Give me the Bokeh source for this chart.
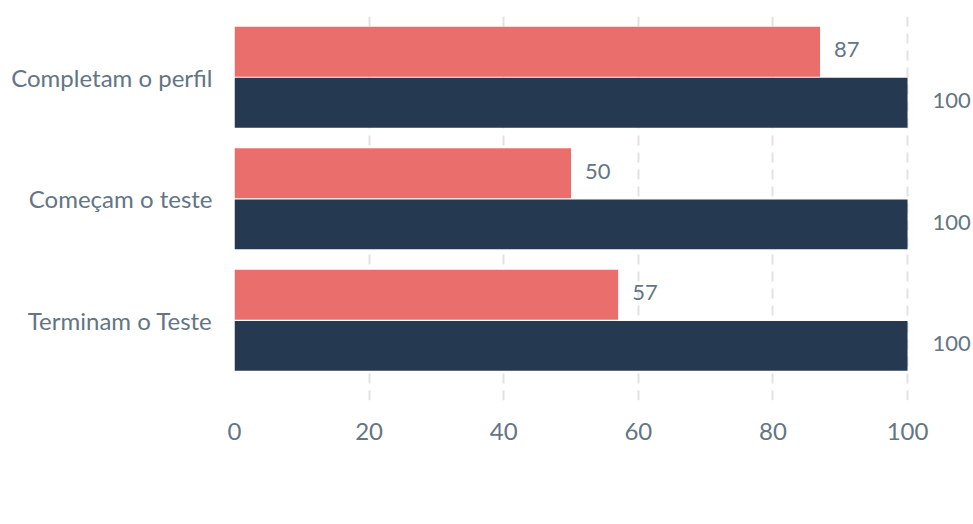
import numpy as np
from bokeh.plotting import figure
from bokeh.models import Range1d, FixedTicker, Legend
from bokeh.core.properties import value
from bokeh.embed import file_html
from bokeh.resources import INLINE

# ---- data ----
categories = ["Completam o perfil", "Começam o teste", "Terminam o Teste"]
homens = [100, 100, 100]
mulheres = [87, 50, 57]
x_ticks = [0, 20, 40, 60, 80, 100]
series_names = ["Homens", "Mulheres"]

# ---- style ----
DARK = "#253a50"
PINK = "#ea6f6c"
TEXT = "#647584"
GRID = "#e2e2e2"
FONT = "Lato"
FS = "24px"
FS_DATA = "22px"

idx = np.arange(len(categories))
BAR_H = 0.41
OFF = 0.21

p = figure(
    width=973, height=524, frame_width=739, frame_height=384,
    x_range=Range1d(0, 109.8),
    y_range=Range1d(len(categories) - 0.34, -0.5),
    output_backend="svg", toolbar_location=None,
    min_border_left=234, min_border_right=0, min_border_top=16, min_border_bottom=0,
)

r_pink = p.hbar(y=idx - OFF, left=0, right=mulheres, height=BAR_H,
                fill_color=PINK, line_color=None)
r_dark = p.hbar(y=idx + OFF, left=0, right=homens, height=BAR_H,
                fill_color=DARK, line_color=None)

p.text(x=mulheres, y=idx - OFF, text=[str(v) for v in mulheres], x_offset=14, y_offset=-2,
       text_align="left", text_baseline="middle", text_font=value(FONT),
       text_font_size=FS_DATA, text_color=TEXT)
p.text(x=homens, y=idx + OFF, text=[str(v) for v in homens], x_offset=25, y_offset=-2,
       text_align="left", text_baseline="middle", text_font=value(FONT),
       text_font_size=FS_DATA, text_color=TEXT)

# axes
p.xaxis.ticker = FixedTicker(ticks=x_ticks)
p.yaxis.ticker = FixedTicker(ticks=[float(i) for i in idx])
p.yaxis.major_label_overrides = {int(i): c for i, c in zip(idx, categories)}
for ax in (p.xaxis[0], p.yaxis[0]):
    ax.axis_line_color = None
    ax.major_tick_line_color = None
    ax.minor_tick_line_color = None
    ax.major_tick_out = 0
    ax.major_tick_in = 0
    ax.major_label_text_font = FONT
    ax.major_label_text_font_size = FS
    ax.major_label_text_color = TEXT
p.xaxis.major_label_standoff = 22
p.yaxis.major_label_standoff = 22
# invisible axis label used only as spacer between the ticks and the legend
p.xaxis.axis_label = "."
p.xaxis.axis_label_text_alpha = 0
p.xaxis.axis_label_text_font = FONT
p.xaxis.axis_label_text_font_size = FS
p.xaxis.axis_label_standoff = 20

p.ygrid.visible = False
p.xgrid.ticker = FixedTicker(ticks=x_ticks)
p.xgrid.grid_line_color = GRID
p.xgrid.grid_line_width = 2
p.xgrid.grid_line_dash = "10 7"
p.outline_line_color = None

legend = Legend(
    items=[(series_names[0], [r_dark]), (series_names[1], [r_pink])],
    orientation="horizontal", location="top_left",
    glyph_width=20, glyph_height=20, label_height=20, label_standoff=14,
    spacing=30, padding=0, margin=0,
    border_line_color=None, background_fill_alpha=0,
    label_text_font=FONT, label_text_font_size=FS, label_text_color=TEXT,
    label_text_baseline="middle",
)
p.add_layout(legend, "below")

open("out.html", "w").write(file_html(p, INLINE))
